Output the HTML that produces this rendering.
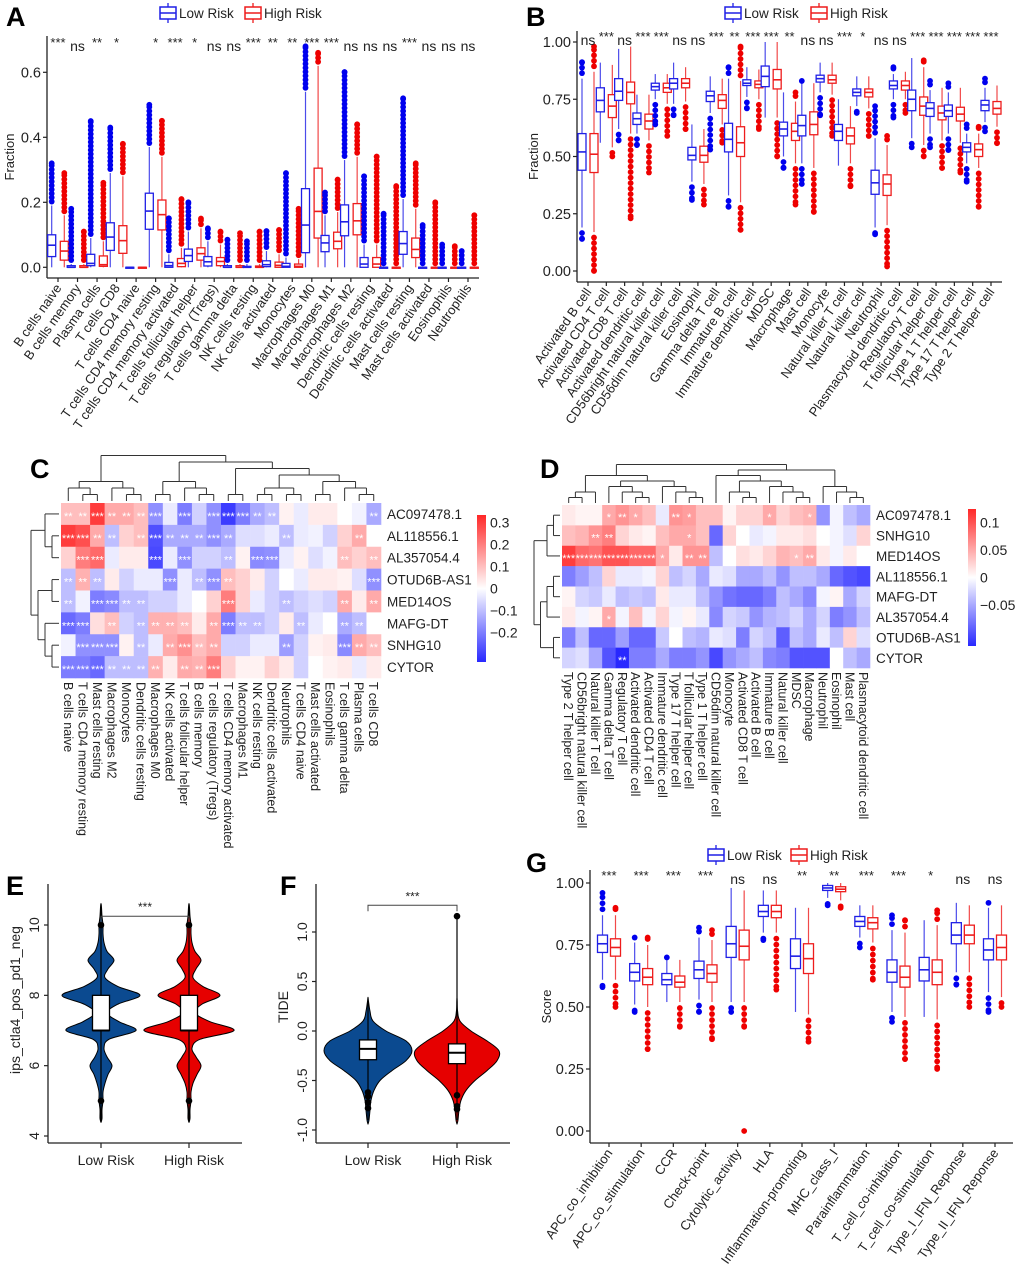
<!DOCTYPE html>
<html><head><meta charset="utf-8">
<style>
body{margin:0;background:#fff}
svg{display:block;font-family:"Liberation Sans",Arial,sans-serif}
</style></head>
<body>
<svg id="fig" width="1020" height="1283" viewBox="0 0 1020 1283" xmlns="http://www.w3.org/2000/svg"></svg>
<script>
// ---------- Panel A data ----------
const aLabels=["B cells naive","B cells memory","Plasma cells","T cells CD8","T cells CD4 naive","T cells CD4 memory resting","T cells CD4 memory activated","T cells follicular helper","T cells regulatory (Tregs)","T cells gamma delta","NK cells resting","NK cells activated","Monocytes","Macrophages M0","Macrophages M1","Macrophages M2","Dendritic cells resting","Dendritic cells activated","Mast cells resting","Mast cells activated","Eosinophils","Neutrophils"];
const aSig=["***","ns","**","*","","*","***","*","ns","ns","***","**","**","***","***","ns","ns","ns","***","ns","ns","ns"];
const aTicks=[0,0.2,0.4,0.6];
// [median,q1,q3,whiskerLo,whiskerHi,outlierLo,outlierHi]
const aLow=[[.068,.033,.10,0,.19,0,.32],[0,0,.005,0,.01,0,.18],[.012,.005,.04,0,.09,0,.45],[.093,.052,.137,0,.29,0,.43],[0,0,0,0,0,0,0],[.173,.117,.228,0,.37,0,.50],[.005,0,.015,0,.04,0,.15],[.036,.018,.056,0,.11,0,.20],[.017,.004,.033,0,.08,0,.12],[0,0,.005,0,.01,0,.085],[0,0,.003,0,.01,0,.08],[.008,.002,.02,0,.05,0,.11],[.003,0,.012,0,.03,0,.29],[.13,.045,.242,0,.54,0,.68],[.075,.048,.098,0,.16,0,.23],[.14,.097,.192,0,.33,0,.60],[.01,0,.03,0,.07,0,.28],[0,0,0,0,0,0,.165],[.073,.04,.11,0,.21,0,.52],[0,0,0,0,0,0,.13],[0,0,0,0,0,0,.07],[0,0,0,0,0,0,.05]];
const aHigh=[[.05,.022,.08,0,.16,0,.29],[0,0,.005,0,.01,0,.11],[.008,.003,.035,0,.08,0,.26],[.082,.043,.128,0,.28,0,.38],[0,0,0,0,0,0,0],[.162,.115,.207,0,.34,0,.45],[.012,.002,.027,0,.06,0,.21],[.042,.022,.06,0,.12,0,.15],[.018,.005,.03,0,.07,0,.11],[0,0,.005,0,.01,0,.105],[0,0,.004,0,.01,0,.11],[.006,0,.016,0,.04,0,.115],[.003,0,.01,0,.025,0,.18],[.172,.09,.305,0,.62,0,.66],[.08,.057,.108,0,.17,0,.27],[.143,.10,.196,0,.34,0,.44],[.01,0,.03,0,.07,0,.34],[0,0,0,0,0,0,.25],[.055,.03,.09,0,.18,0,.32],[0,0,0,0,0,0,.20],[0,0,0,0,0,0,.065],[0,0,0,0,0,0,.16]];
// ---------- Panel B data ----------
const bLabels=["Activated B cell","Activated CD4 T cell","Activated CD8 T cell","Activated dendritic cell","CD56bright natural killer cell","CD56dim natural killer cell","Eosinophil","Gamma delta T cell","Immature  B cell","Immature dendritic cell","MDSC","Macrophage","Mast cell","Monocyte","Natural killer T cell","Natural killer cell","Neutrophil","Plasmacytoid dendritic cell","Regulatory T cell","T follicular helper cell","Type 1 T helper cell","Type 17 T helper cell","Type 2 T helper cell"];
const bSig=["ns","***","ns","***","***","ns","ns","***","**","***","***","**","ns","ns","***","*","ns","ns","***","***","***","***","***"];
const bTicks=[0,0.25,0.5,0.75,1.0];
const bTickLabels=["0.00","0.25","0.50","0.75","1.00"];
const bLow=[[.52,.44,.60,.19,.84,.14,.91],[.745,.695,.80,.56,.91,.56,.91],[.785,.745,.84,.62,.97,.57,.97],[.665,.64,.69,.60,.77,.55,.77],[.805,.79,.82,.75,.86,.64,.86],[.82,.795,.84,.73,.91,.68,.91],[.505,.485,.54,.39,.64,.31,.64],[.765,.74,.785,.69,.85,.53,.85],[.575,.52,.645,.33,.84,.28,.89],[.82,.81,.835,.76,.89,.71,.89],[.85,.805,.895,.67,1.0,.67,1.0],[.62,.59,.65,.50,.78,.45,.78],[.635,.59,.68,.47,.82,.38,.83],[.84,.825,.855,.78,.91,.68,.91],[.61,.57,.64,.46,.75,.46,.75],[.78,.765,.795,.72,.85,.69,.85],[.385,.335,.44,.19,.58,.16,.72],[.81,.795,.83,.75,.86,.67,.89],[.75,.70,.79,.58,.93,.54,.93],[.71,.675,.735,.60,.79,.54,.83],[.70,.675,.725,.60,.78,.53,.82],[.54,.52,.56,.47,.60,.39,.64],[.725,.70,.745,.65,.80,.61,.84]];
const bHigh=[[.51,.43,.60,.17,.87,0,.98],[.72,.67,.77,.54,.90,.50,.90],[.78,.73,.825,.60,.98,.23,.98],[.655,.62,.685,.57,.77,.43,.77],[.80,.78,.82,.73,.86,.59,.86],[.82,.80,.84,.74,.89,.62,.89],[.505,.475,.545,.38,.62,.29,.62],[.745,.71,.77,.64,.84,.56,.84],[.56,.50,.63,.30,.83,.18,.98],[.815,.80,.83,.75,.88,.62,.88],[.835,.795,.88,.67,1.0,.50,1.0],[.61,.57,.645,.47,.74,.29,.78],[.64,.595,.695,.45,.82,.26,.82],[.835,.82,.855,.77,.91,.59,.91],[.59,.555,.625,.47,.72,.37,.72],[.78,.76,.795,.71,.85,.59,.85],[.38,.33,.42,.20,.55,.02,.59],[.81,.79,.83,.75,.87,.69,.87],[.72,.68,.76,.55,.89,.50,.92],[.69,.66,.72,.57,.80,.45,.80],[.685,.655,.715,.56,.80,.43,.80],[.53,.50,.555,.45,.60,.28,.63],[.71,.685,.74,.63,.81,.56,.81]];
// ---------- Panel C data ----------
const cRows=["AC097478.1","AL118556.1","AL357054.4","OTUD6B-AS1","MED14OS","MAFG-DT","SNHG10","CYTOR"];
const cCols=["B cells naive","T cells CD4 memory resting","Mast cells resting","Macrophages M2","Monocytes","Dendritic cells resting","Macrophages M0","NK cells activated","T cells follicular helper","B cells memory","T cells regulatory (Tregs)","T cells CD4 memory activated","Macrophages M1","NK cells resting","Dendritic cells activated","Neutrophils","T cells CD4 naive","Mast cells activated","Eosinophils","T cells gamma delta","Plasma cells","T cells CD8"];
const cVals=[
[.10,.10,.30,.13,.13,.10,-.17,-.03,-.20,-.07,-.17,-.30,-.20,-.13,-.10,.02,-.03,.03,.03,0,-.02,-.13],
[.30,.27,.13,-.10,.07,.10,-.27,-.13,-.13,-.13,-.17,-.13,-.05,-.05,-.03,-.10,-.03,-.02,-.07,.07,.13,0],
[.07,.20,.23,-.03,.03,.03,-.28,-.03,-.17,-.07,-.07,-.10,.02,-.18,-.17,-.03,.02,-.05,-.02,.10,.07,.10],
[-.10,.12,-.10,.03,-.07,-.03,-.03,-.17,-.03,-.10,-.17,.10,.07,.03,-.07,0,-.03,.03,.03,.02,-.05,-.17],
[-.10,-.02,-.20,-.18,-.10,-.10,-.07,-.07,-.03,0,.07,.20,.07,-.03,-.07,-.10,-.07,-.05,-.07,.13,.03,.13],
[-.23,-.20,.05,.10,-.07,-.10,.12,.12,.10,.03,.13,-.20,-.10,-.10,-.07,.03,-.10,-.03,0,-.13,-.10,0],
[-.02,-.17,-.17,-.17,.02,-.10,-.03,.13,.17,.10,.13,-.07,-.07,-.03,-.03,-.15,-.07,.02,.03,-.18,.13,.10],
[-.20,-.20,-.23,-.10,-.10,-.10,.12,.03,.13,.12,.20,.07,.02,.02,.07,.03,-.07,0,.02,.03,-.03,.03]];
const cTicks=[0.3,0.2,0.1,0,-0.1,-0.2];
const cTickLabels=["0.3","0.2","0.1","0","\u22120.1","\u22120.2"];
// ---------- Panel D data ----------
const dRows=["AC097478.1","SNHG10","MED14OS","AL118556.1","MAFG-DT","AL357054.4","OTUD6B-AS1","CYTOR"];
const dCols=["Type 2 T helper cell","CD56bright natural killer cell","Natural killer T cell","Gamma delta T cell","Regulatory T cell","Activated dendritic cell","Activated CD4 T cell","Immature dendritic cell","Type 17 T helper cell","T follicular helper cell","Type 1 T helper cell","CD56dim natural killer cell","Monocyte","Activated CD8 T cell","Activated B cell","Immature B cell","Natural killer cell","MDSC","Macrophage","Neutrophil","Eosinophil","Mast cell","Plasmacytoid dendritic cell"];
const dVals=[
[.012,.006,.006,.048,.06,.048,.036,-.012,.06,.054,.036,.036,.006,.024,.024,.048,.024,.036,.042,-.06,-.006,-.036,-.048],
[.036,.042,.06,.072,.024,.012,.006,.036,.048,.048,.036,-.084,.024,0,-.012,-.006,.012,.012,.018,0,-.006,-.018,.024],
[.108,.084,.078,.096,.096,.084,.084,.048,.012,.06,.06,-.036,0,.018,.012,.024,.042,.036,.048,.012,-.006,.012,0],
[-.072,-.054,-.036,.024,-.012,-.012,-.006,.024,-.036,-.024,-.048,-.012,-.018,-.048,-.048,-.036,-.06,-.036,-.036,-.048,-.084,-.096,-.102],
[.006,-.024,-.03,-.012,-.036,-.03,-.036,.012,-.012,-.012,-.036,-.06,-.078,-.084,-.084,-.072,-.036,-.048,-.066,-.006,.006,-.048,-.024],
[.012,-.006,.006,.048,-.006,.036,-.006,.024,-.006,.006,-.012,-.066,-.024,-.03,-.06,-.042,-.036,-.024,-.048,-.024,-.072,-.06,-.036],
[-.072,-.036,-.084,-.084,-.054,-.084,-.084,-.03,0,-.036,-.042,-.012,-.018,-.072,-.024,-.036,-.09,-.036,-.048,-.012,-.036,.024,-.018],
[-.024,-.018,-.048,-.096,-.12,-.072,-.072,-.048,-.072,-.072,-.06,-.102,-.06,-.048,-.036,-.066,-.072,-.096,-.096,-.096,0,-.036,-.048]];
const dStars=[[0,0,0,1,2,1,0,0,2,1,0,0,0,0,0,1,0,0,1,0,0,0,0],[0,0,2,2,0,0,0,0,0,1,0,0,0,0,0,0,0,0,0,0,0,0,0],[3,3,3,3,3,3,3,1,0,2,2,0,0,0,0,0,0,1,2,0,0,0,0],[0,0,0,0,0,0,0,0,0,0,0,0,0,0,0,0,0,0,0,0,0,0,0],[0,0,0,0,0,0,0,0,0,0,0,0,0,0,0,0,0,0,0,0,0,0,0],[0,0,0,1,0,0,0,0,0,0,0,0,0,0,0,0,0,0,0,0,0,0,0],[0,0,0,0,0,0,0,0,0,0,0,0,0,0,0,0,0,0,0,0,0,0,0],[0,0,0,0,2,0,0,0,0,0,0,0,0,0,0,0,0,0,0,0,0,0,0]];
const dTicks=[0.1,0.05,0,-0.05];
const dTickLabels=["0.1","0.05","0","\u22120.05"];
// ---------- Panel E/F data ----------
const eGroups=["Low Risk","High Risk"];
const eTicks=[4,6,8,10];
const eDensVals=[4.5,4.75,5,5.25,5.5,5.75,6,6.25,6.5,6.75,7,7.25,7.5,7.75,8,8.25,8.5,8.75,9,9.25,9.5,9.75,10,10.25,10.5];
const eLowDens=[1,1,2,2,4,7,11,6,3,8,35,18,6,17,39,17,4,7,13,6,3,2,2,1,0.5];
const eHighDens=[1,1,2,2,4,8,12,7,3,11,45,21,6,13,31,14,4,7,12,6,3,2,2,1,0.5];
const eLowBox=[7,7,8,6,9,4.4,10.6];
const eHighBox=[7,7,8,6,9,4.4,10.6];
const eLowOut=[5,10];
const eHighOut=[5,10];
const fTicks=[-1,-0.5,0,0.5,1];
const fTickLabels=["-1.0","-0.5","0.0","0.5","1.0"];
const fDensVals=[-0.9,-0.8,-0.7,-0.6,-0.5,-0.4,-0.3,-0.2,-0.1,0,0.1,0.2,0.3];
const fLowDens=[1,2,3,6,12,24,38,44,38,18,5,2,0.5];
const fHighDens=[1,2,4,9,18,30,40,42,30,14,3,0.6,0.2];
const fLowBox=[-0.18,-0.29,-0.09,-0.6,0.05,-0.9,0.3];
const fHighBox=[-0.22,-0.33,-0.13,-0.65,0.1,-0.9,1.16];
const fLowOut=[-0.62,-0.66,-0.72,-0.78];
const fHighOut=[-0.65,-0.76,-0.79,1.16];
// ---------- Panel G data ----------
const gLabels=["APC_co_inhibition","APC_co_stimulation","CCR","Check-point","Cytolytic_activity","HLA","Inflammation-promoting","MHC_class_I","Parainflammation","T_cell_co-inhibition","T_cell_co-stimulation","Type_I_IFN_Reponse","Type_II_IFN_Reponse"];
const gSig=["***","***","***","***","ns","ns","**","**","***","***","*","ns","ns"];
const gLow=[[.755,.72,.79,.61,.87,.58,.96],[.64,.605,.675,.51,.76,.48,.78],[.61,.59,.635,.52,.69,.52,.70],[.65,.615,.685,.53,.78,.48,.82],[.755,.70,.825,.52,.98,.48,.98],[.885,.865,.91,.80,.97,.77,.97],[.705,.655,.775,.48,.90,.48,.90],[.98,.97,.99,.94,1.0,.91,1.0],[.845,.825,.865,.78,.91,.74,.91],[.64,.60,.69,.48,.81,.44,.87],[.65,.605,.70,.46,.85,.46,.85],[.79,.755,.84,.64,.92,.59,.92],[.73,.69,.775,.56,.90,.48,.92]];
const gHigh=[[.74,.705,.775,.61,.87,.50,.90],[.62,.59,.655,.50,.75,.33,.78],[.60,.58,.625,.52,.69,.42,.69],[.635,.60,.67,.52,.77,.37,.81],[.745,.69,.81,.52,.97,.42,.97],[.885,.86,.91,.80,.97,.57,.97],[.695,.635,.755,.47,.90,.36,.90],[.975,.965,.985,.93,1.0,.90,1.0],[.84,.815,.86,.76,.91,.61,.91],[.62,.58,.665,.46,.80,.29,.85],[.64,.59,.69,.45,.83,.25,.89],[.79,.755,.83,.64,.91,.50,.91],[.74,.69,.79,.54,.91,.50,.91]];
const gExtraOut=[0];
const gTicks=[0,0.25,0.5,0.75,1.0];

const NS="http://www.w3.org/2000/svg";
const svg=document.getElementById("fig");
function el(tag,attrs,parent,text){const e=document.createElementNS(NS,tag);for(const k in attrs)e.setAttribute(k,attrs[k]);if(text!==undefined)e.textContent=text;(parent||svg).appendChild(e);return e;}
function grp(name,parent){const g=el("g",{},parent);


return g;}
const BLUE="#1f1fe6",RED="#ee1c1c";

function panelLetter(t,x,y){const e=el("text",{x:x,y:y,"font-size":27,"font-weight":"bold",fill:"#000"},svg,t);

}

function legend(x,y,sp){const g=grp("legend");
[[BLUE,"Low Risk"],[RED,"High Risk"]].forEach((d,i)=>{const ox=x+i*sp;
const it=grp(i?"legend-entry-high-risk":"legend-entry-low-risk",g);
el("line",{x1:ox+8,x2:ox+8,y1:y-10,y2:y+10,stroke:d[0],"stroke-width":1.3},it);
el("rect",{x:ox,y:y-6,width:16,height:12,fill:"#fff",stroke:d[0],"stroke-width":1.5},it);
el("line",{x1:ox,x2:ox+16,y1:y,y2:y,stroke:d[0],"stroke-width":1.5},it);
el("text",{x:ox+19,y:y+5,"font-size":13.5,fill:"#222"},it,d[1]);});}

function yAxis(g,x,y0,y1,ticks,labels,ys,fs){el("line",{x1:x,x2:x,y1:y0,y2:y1,stroke:"#222","stroke-width":1.3},g);
ticks.forEach((t,i)=>{const y=ys(t);el("line",{x1:x-4,x2:x,y1:y,y2:y,stroke:"#222","stroke-width":1.2},g);
const tx=el("text",{x:x-6,y:y+5,"font-size":fs||14,"text-anchor":"end",fill:"#222"},g,labels[i]);

});}

function boxplot(g,cx,s,color,ys,w,step){const [m,q1,q3,lo,hi,olo,ohi]=s;
el("line",{x1:cx,x2:cx,y1:ys(hi),y2:ys(q3),stroke:color,"stroke-width":1.2,opacity:.8},g);
el("line",{x1:cx,x2:cx,y1:ys(q1),y2:ys(lo),stroke:color,"stroke-width":1.2,opacity:.8},g);
const hgt=Math.max(ys(q1)-ys(q3),1);
el("rect",{x:cx-w/2,y:ys(q3),width:w,height:hgt,fill:"#fff",stroke:color,"stroke-width":1.3},g);
el("line",{x1:cx-w/2,x2:cx+w/2,y1:ys(m),y2:ys(m),stroke:color,"stroke-width":1.6},g);
const fillCol=color===BLUE?"#0000ee":"#ee0000";
if(ohi>hi){for(let y=ys(hi)-step;y>=ys(ohi)-0.5;y-=step)el("circle",{cx:cx,cy:y,r:2.9,fill:fillCol},g);el("circle",{cx:cx,cy:ys(ohi),r:2.9,fill:fillCol},g);}
if(olo<lo){for(let y=ys(lo)+step;y<=ys(olo)+0.5;y+=step)el("circle",{cx:cx,cy:y,r:2.9,fill:fillCol},g);el("circle",{cx:cx,cy:ys(olo),r:2.9,fill:fillCol},g);}}

function boxPanel(opt){const g=grp(opt.name);
const ys=v=>opt.y0+(opt.y1-opt.y0)*(v-opt.vmin)/(opt.vmax-opt.vmin);
const n=opt.labels.length,step=(opt.xl-opt.xf)/(n-1),xs=i=>opt.xf+i*step;
yAxis(g,opt.ax,opt.top,opt.axy,opt.ticks,opt.tickLabels,ys,opt.fs);
el("line",{x1:opt.ax,x2:opt.axr,y1:opt.axy,y2:opt.axy,stroke:"#222","stroke-width":1.3},g);
const yt=el("text",{transform:`translate(${opt.ytx},${(opt.top+opt.axy)/2}) rotate(-90)`,"font-size":13,"text-anchor":"middle",fill:"#222"},g,opt.ytitle);


opt.labels.forEach((lab,i)=>{const cx=xs(i);
el("line",{x1:cx,x2:cx,y1:opt.axy,y2:opt.axy+4,stroke:"#222","stroke-width":1.2},g);
const bg=grp("box-pair-"+i,g);
boxplot(bg,cx-opt.off,opt.low[i],BLUE,ys,opt.bw,opt.ostep);
boxplot(bg,cx+opt.off,opt.high[i],RED,ys,opt.bw,opt.ostep);
const t=el("text",{transform:`translate(${cx+4},${opt.axy+10}) rotate(-55)`,"font-size":opt.lfs||13,"text-anchor":"end",fill:"#222"},g,lab);


const sg=opt.sig[i];const st=el("text",{x:cx,y:sg==="ns"?opt.sigy+4:opt.sigy,"font-size":sg==="ns"?14:13,"text-anchor":"middle",fill:"#222"},g,sg);

});
return {g,ys,xs};}

// ---------- A ----------
panelLetter("A",6,26);legend(160,13,85);
boxPanel({name:"panel-a-boxplot",labels:aLabels,sig:aSig,low:aLow,high:aHigh,vmin:0,vmax:0.6,y0:267.3,y1:72.3,xf:58,xl:468,off:6.3,bw:8,ax:47,axr:479,axy:278,top:36,ticks:aTicks,tickLabels:["0.0","0.2","0.4","0.6"],ytitle:"Fraction",ytx:14,sigy:47,fs:14.5,ostep:4});
// ---------- B ----------
panelLetter("B",526,26);legend(725,13,86);
boxPanel({name:"panel-b-boxplot",labels:bLabels,sig:bSig,low:bLow,high:bHigh,vmin:0,vmax:1,y0:271,y1:42,xf:588,xl:991,off:6,bw:8,ax:577,axr:1002,axy:282,top:31,ticks:bTicks,tickLabels:bTickLabels,ytitle:"Fraction",ytx:538,sigy:41,fs:14.5,ostep:5.5});
// ---------- G ----------
panelLetter("G",526,872);legend(708,855,83);
const gp=boxPanel({name:"panel-g-boxplot",labels:gLabels,sig:gSig,low:gLow,high:gHigh,vmin:0,vmax:1,y0:1131,y1:883,xf:609,xl:995,off:6.5,bw:10,ax:590,axr:1013,axy:1143,top:870,ticks:gTicks,tickLabels:["0.00","0.25","0.50","0.75","1.00"],ytitle:"Score",ytx:551,sigy:880,fs:14.5,ostep:6});
gExtraOut.forEach(v=>el("circle",{cx:gp.xs(4)+6.5,cy:gp.ys(v),r:2.9,fill:"#ee0000"},gp.g));

// ---------- heatmaps ----------
function heatColor(v,vmax){let t=Math.max(-1,Math.min(1,v/vmax));
if(t>=0){const gg=Math.round(255-t*(255-40));return `rgb(255,${gg},${gg})`;}
const a=-t;const c=Math.round(255-a*(255-40));return `rgb(${c},${c},255)`;}
function dendro(g,tree,pos,base,unit,horizontal){
function h(n){return Array.isArray(n)?1+Math.max(...n.map(h)):0;}
function draw(n){if(!Array.isArray(n))return {c:pos(n),hh:0};
const ch=n.map(draw);const hh=h(n);const lev=base-hh*unit;
ch.forEach(c=>{const cl=base-c.hh*unit;
if(horizontal)el("line",{x1:cl,x2:lev,y1:c.c,y2:c.c,stroke:"#333","stroke-width":1},g);
else el("line",{x1:c.c,x2:c.c,y1:cl,y2:lev,stroke:"#333","stroke-width":1},g);});
const mn=Math.min(...ch.map(c=>c.c)),mx=Math.max(...ch.map(c=>c.c));
if(horizontal)el("line",{x1:lev,x2:lev,y1:mn,y2:mx,stroke:"#333","stroke-width":1},g);
else el("line",{x1:mn,x2:mx,y1:lev,y2:lev,stroke:"#333","stroke-width":1},g);
return {c:(mn+mx)/2,hh:hh};}
draw(tree);}
function heatmap(opt){const g=grp(opt.name);
const nr=opt.rows.length,nc=opt.cols.length,cw=(opt.x1-opt.x0)/nc,rh=(opt.y1-opt.y0)/nr;
opt.vals.forEach((row,r)=>row.forEach((v,c)=>{const x=opt.x0+c*cw,y=opt.y0+r*rh;
const cell=el("rect",{x:x,y:y,width:cw+0.3,height:rh+0.3,fill:heatColor(v,opt.vmax)},g);


const ns=opt.stars(r,c,v);if(ns>0)el("text",{x:x+cw/2,y:y+rh/2+6,"font-size":11,"text-anchor":"middle",fill:"#fff"},g,"*".repeat(ns));}));
opt.rows.forEach((lab,r)=>{const t=el("text",{x:opt.x1+6,y:opt.y0+(r+0.5)*rh+5,"font-size":13.5,fill:"#222"},g,lab);

});
opt.cols.forEach((lab,c)=>{const t=el("text",{transform:`translate(${opt.x0+(c+0.5)*cw-4.5},${opt.y1+4}) rotate(90)`,"font-size":12.5,fill:"#222"},g,lab);

});
dendro(g,opt.colTree,i=>opt.x0+(i+0.5)*cw,opt.y0-2,opt.cunit,false);
dendro(g,opt.rowTree,i=>opt.y0+(i+0.5)*rh,opt.x0-2,opt.runit,true);
const cb=grp("colorbar",g);const defs=el("defs",{},cb);
const lg=el("linearGradient",{id:opt.name+"-grad",x1:0,y1:0,x2:0,y2:1},defs);
el("stop",{offset:"0%","stop-color":"rgb(255,40,40)"},lg);el("stop",{offset:"50%","stop-color":"#fff"},lg);el("stop",{offset:"100%","stop-color":"rgb(40,40,255)"},lg);
el("rect",{x:opt.cbx,y:opt.cby0,width:opt.cbw,height:opt.cby1-opt.cby0,fill:`url(#${opt.name}-grad)`},cb);
const cys=v=>opt.cby0+(opt.cbmax-v)/(2*opt.cbmax)*(opt.cby1-opt.cby0);
opt.cbTicks.forEach((t,i)=>{const tx=el("text",{x:opt.cbx+opt.cbw+4,y:cys(t)+5,"font-size":14,fill:"#222"},cb,opt.cbLabels[i]);

});}

panelLetter("C",30,478);
heatmap({name:"panel-c-heatmap",rows:cRows,cols:cCols,vals:cVals,vmax:0.33,x0:61,x1:381,y0:503,y1:678,
stars:(r,c,v)=>{const a=Math.abs(v);return a>=0.16?3:a>=0.1?2:a>=0.08?1:0;},
colTree:[[[0,[1,2]],[3,[4,5]]],[[[6,7],[8,[9,10]]],[[11,12],[[[13,14],[15,16]],[[17,18],[19,[20,21]]]]]]],cunit:6.5,
rowTree:[[0,[1,2]],[[3,4],[5,[6,7]]]],runit:7,
cbx:477,cbw:9,cby0:515,cby1:662,cbmax:0.335,cbTicks:cTicks,cbLabels:cTickLabels});

panelLetter("D",540,478);
heatmap({name:"panel-d-heatmap",rows:dRows,cols:dCols,vals:dVals,vmax:0.12,x0:562,x1:870,y0:505,y1:668,
stars:(r,c,v)=>dStars[r][c],
colTree:[[[[0,1],2],[[3,[4,[5,6]]],[7,[8,[9,10]]]]],[[11,[[12,[13,14]],[15,[16,[17,18]]]]],[19,[20,[21,22]]]]],cunit:5.5,
rowTree:[[[0,1],2],[[[3,4],5],[6,7]]],runit:6.5,
cbx:968,cbw:8,cby0:509,cby1:646,cbmax:0.125,cbTicks:dTicks,cbLabels:dTickLabels});

// ---------- violins ----------
function smoothPath(pts){let d=`M${pts[0][0]},${pts[0][1]}`;
for(let i=0;i<pts.length-1;i++){const p0=pts[Math.max(0,i-1)],p1=pts[i],p2=pts[i+1],p3=pts[Math.min(pts.length-1,i+2)];
const c1=[p1[0]+(p2[0]-p0[0])/6,p1[1]+(p2[1]-p0[1])/6],c2=[p2[0]-(p3[0]-p1[0])/6,p2[1]-(p3[1]-p1[1])/6];
d+=` C${c1[0]},${c1[1]} ${c2[0]},${c2[1]} ${p2[0]},${p2[1]}`;}return d;}
function violinPanel(opt){const g=grp(opt.name);
const ys=v=>opt.y0+(opt.y1-opt.y0)*(v-opt.vmin)/(opt.vmax-opt.vmin);
el("line",{x1:opt.ax,x2:opt.ax,y1:opt.top,y2:opt.axy,stroke:"#222","stroke-width":1.3},g);
el("line",{x1:opt.ax,x2:opt.axr,y1:opt.axy,y2:opt.axy,stroke:"#222","stroke-width":1.3},g);
opt.ticks.forEach((t,i)=>{const y=ys(t);el("line",{x1:opt.ax-4,x2:opt.ax,y1:y,y2:y,stroke:"#222","stroke-width":1.2},g);
const tx=el("text",{transform:`translate(${opt.ax-9},${y}) rotate(-90)`,"font-size":14,"text-anchor":"middle",fill:"#222"},g,opt.tickLabels[i]);

});
const yt=el("text",{transform:`translate(${opt.ytx},${opt.ytc}) rotate(-90)`,"font-size":14,"text-anchor":"middle",fill:"#222"},g,opt.ytitle);


[[opt.lowX,opt.lowDens,opt.lowBox,opt.lowOut,"#0b4a90"],[opt.highX,opt.highDens,opt.highBox,opt.highOut,"#e60000"]].forEach((d,gi)=>{
const [cx,dens,box,outs,col]=d;const vg=grp(gi?"violin-high-risk":"violin-low-risk",g);
el("line",{x1:cx,x2:cx,y1:opt.axy,y2:opt.axy+5,stroke:"#222","stroke-width":1.2},g);
const right=opt.dv.map((v,i)=>[cx+dens[i]*opt.ws,ys(v)]);const left=opt.dv.map((v,i)=>[cx-dens[i]*opt.ws,ys(v)]).reverse();
const pts=[[cx,ys(opt.dv[0])+4],...right,[cx,ys(opt.dv[opt.dv.length-1])-4],...left,[cx,ys(opt.dv[0])+4]];
el("path",{d:smoothPath(pts)+"Z",fill:col,stroke:"#000","stroke-width":1,"stroke-linejoin":"round"},vg);
el("line",{x1:cx,x2:cx,y1:ys(box[5]),y2:ys(box[6]),stroke:"#000","stroke-width":1.2},vg);
el("rect",{x:cx-opt.bw/2,y:ys(box[2]),width:opt.bw,height:ys(box[1])-ys(box[2]),fill:"#fff",stroke:"#000","stroke-width":1.3},vg);
el("line",{x1:cx-opt.bw/2,x2:cx+opt.bw/2,y1:ys(box[0]),y2:ys(box[0]),stroke:"#000","stroke-width":2},vg);
outs.forEach(o=>el("circle",{cx:cx,cy:ys(o),r:3.3,fill:"#000"},vg));
const lt=el("text",{x:cx+5,y:opt.axy+22,"font-size":14,"text-anchor":"middle",fill:"#222"},g,opt.groups[gi]);

});
const by=ys(opt.bracket);
el("polyline",{points:`${opt.lowX},${by+6} ${opt.lowX},${by} ${opt.highX},${by} ${opt.highX},${by+6}`,fill:"none",stroke:"#444","stroke-width":1},g);
el("text",{x:(opt.lowX+opt.highX)/2,y:by-5,"font-size":12,"text-anchor":"middle",fill:"#222"},g,"***");}

panelLetter("E",6,895);
violinPanel({name:"panel-e-violin",groups:eGroups,vmin:4,vmax:10,y0:1136,y1:925,ax:48,axr:242,axy:1143,top:884,ticks:eTicks,tickLabels:["4","6","8","10"],ytitle:"ips_ctla4_pos_pd1_neg",ytx:20,ytc:1000,lowX:101,highX:189,dv:eDensVals,lowDens:eLowDens,highDens:eHighDens,ws:1,lowBox:eLowBox,highBox:eHighBox,lowOut:eLowOut,highOut:eHighOut,bw:17,bracket:10.25});
panelLetter("F",280,895);
violinPanel({name:"panel-f-violin",groups:eGroups,vmin:-1,vmax:1,y0:1130,y1:932,ax:316,axr:510,axy:1143,top:884,ticks:fTicks,tickLabels:fTickLabels,ytitle:"TIDE",ytx:288,ytc:1007,lowX:368,highX:457,dv:fDensVals,lowDens:fLowDens,highDens:fHighDens,ws:1,lowBox:fLowBox,highBox:fHighBox,lowOut:fLowOut,highOut:fHighOut,bw:17,bracket:1.27});
</script>
</body></html>
